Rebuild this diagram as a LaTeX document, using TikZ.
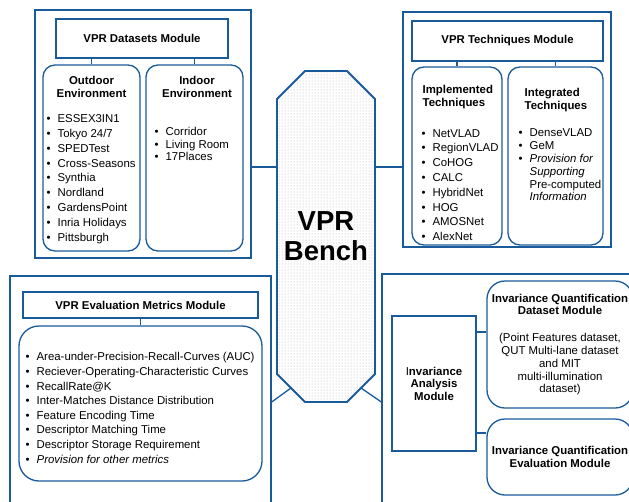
\documentclass[tikz,border=0pt]{standalone}
\usepackage{fontspec}
\setmainfont{Liberation Sans}
\usetikzlibrary{patterns}
\definecolor{vprblue}{RGB}{25,90,155}
\tikzset{every picture/.style={line width=1.3pt}}
\newcommand{\itm}[1]{\makebox[11pt][l]{\textbullet}#1}
\newcommand{\ind}[1]{\hspace*{11pt}#1}

\begin{document}
\begin{tikzpicture}[x=1pt,y=-1pt,
    frame/.style={draw=vprblue, inner sep=0pt},
    titlebox/.style={draw=vprblue, inner sep=0pt, align=center, font=\fontsize{11.4}{13}\selectfont\bfseries},
    roundbox/.style={draw=vprblue, inner sep=0pt, rounded corners=12pt},
    head/.style={inner sep=0pt, font=\fontsize{11.4}{13}\selectfont\bfseries},
    biglist/.style={inner sep=0pt, anchor=west, align=left, font=\fontsize{11.4}{14.8}\selectfont},
    smalllist/.style={inner sep=0pt, anchor=west, align=left, font=\fontsize{11.4}{12.8}\selectfont},
    link/.style={draw=vprblue}]
    \clip (0,0) rectangle (629,501);

    % datasets
    \node[frame, minimum width=216, minimum height=248] (dsframe) at (143,134) {};
    \node[titlebox, minimum width=172, minimum height=39] (dstitle) at (142,38.5) {VPR Datasets Module};
    \node[roundbox, minimum width=97, minimum height=186] (outdoor) at (91.5,158) {};
    \node[roundbox, minimum width=97, minimum height=186] (indoor) at (194.5,158) {};
    \node[head, align=center] (outhead) at (91.5,86.5) {Outdoor\\Environment};
    \node[head, align=center] (inhead) at (197,86.5) {Indoor\\Environment};
    \node[biglist] (outlist) at (46,179) {\itm{ESSEX3IN1}\\\itm{Tokyo 24/7}\\\itm{SPEDTest}\\\itm{Cross-Seasons}\\\itm{Synthia}\\\itm{Nordland}\\\itm{GardensPoint}\\\itm{Inria Holidays}\\\itm{Pittsburgh}};
    \node[smalllist] (inlist) at (154,144) {\itm{Corridor}\\\itm{Living Room}\\\itm{17Places}};

    % techniques
    \node[frame, minimum width=208, minimum height=235] (tqframe) at (507,129.5) {};
    \node[titlebox, minimum width=191, minimum height=40] (tqtitle) at (507.5,41) {VPR Techniques Module};
    \node[roundbox, minimum width=90, minimum height=178] (impl) at (457,156) {};
    \node[roundbox, minimum width=95, minimum height=178] (integ) at (555.5,156) {};
    \node[head, align=left, anchor=west] (implhead) at (422,97.5) {Implemented\\Techniques};
    \node[head, align=left, anchor=west] (integhead) at (524,100.5) {Integrated\\Techniques};
    \node[biglist] (impllist) at (421,185) {\itm{NetVLAD}\\\itm{RegionVLAD}\\\itm{CoHOG}\\\itm{CALC}\\\itm{HybridNet}\\\itm{HOG}\\\itm{AMOSNet}\\\itm{AlexNet}};
    \node[smalllist] (integlist) at (518,165) {\itm{DenseVLAD}\\\itm{GeM}\\\itm{\textit{Provision for}}\\\ind{\textit{Supporting}}\\\ind{Pre-computed}\\\ind{\textit{Information}}};

    % evaluation metrics
    \node[frame, minimum width=261, minimum height=252] (evframe) at (140.5,402) {};
    \node[titlebox, minimum width=235, minimum height=26] (evtitle) at (140.5,305) {VPR Evaluation Metrics Module};
    \node[roundbox, rounded corners=20pt, minimum width=243, minimum height=155] (evbox) at (140.5,403.5) {};
    \node[biglist, font=\fontsize{11.4}{14.6}\selectfont] (evlist) at (25,408) {\itm{Area-under-Precision-Recall-Curves (AUC)}\\\itm{Reciever-Operating-Characteristic Curves}\\\itm{RecallRate@K}\\\itm{Inter-Matches Distance Distribution}\\\itm{Feature Encoding Time}\\\itm{Descriptor Matching Time}\\\itm{Descriptor Storage Requirement}\\\itm{\textit{Provision for other metrics}}};

    % invariance analysis
    \node[frame, minimum width=278, minimum height=256] (invframe) at (521,402) {};
    \node[titlebox, font=\fontsize{11.4}{12.5}\selectfont\bfseries, minimum width=84, minimum height=135] (invmod) at (434,383.5) {{\mdseries I}nvariance\\Analysis\\Module};
    \node[roundbox, rounded corners=18pt, align=center, font=\fontsize{11.4}{12.8}\selectfont, minimum width=146, minimum height=127] (iqds) at (560,344.5) {\textbf{Invariance Quantification}\\\textbf{Dataset Module}\\[14pt](Point Features dataset,\\QUT Multi-lane dataset\\and MIT\\multi-illumination\\dataset)};
    \node[roundbox, rounded corners=18pt, align=center, font=\fontsize{11.4}{12.5}\selectfont\bfseries, minimum width=146, minimum height=76] (iqev) at (560,457) {Invariance Quantification\\Evaluation Module};

    % centre
    \draw[draw=vprblue, line width=1.8pt, pattern=dots, pattern color=gray!60]
        (305,71) -- (347,71) -- (375,99) -- (375,374) -- (347,402) -- (305,402) -- (277,374) -- (277,99) -- cycle;
    \node[font=\fontsize{27.5}{30}\selectfont\bfseries, align=center] (bench) at (326,236.5) {VPR\\Bench};
    \coordinate (octW) at (277,167);
    \coordinate (octE) at (375,167);
    \coordinate (octSW) at (291,388);
    \coordinate (octSE) at (361,388);
    \coordinate (q1) at ([yshift=12.5pt]iqds.west);
    \coordinate (q2) at ([yshift=24pt]iqev.west);

    \draw[link]
        (outdoor.north |- dstitle.south) edge (outdoor.north)
        (indoor.north |- dstitle.south) edge (indoor.north)
        (impl.north |- tqtitle.south) edge (impl.north)
        (integ.north |- tqtitle.south) edge (integ.north)
        (evtitle.south) edge (evbox.north)
        (dsframe.east |- octW) edge (octW)
        (octE) edge (octE -| tqframe.west)
        (evframe.east) edge (octSW)
        (octSE) edge (invframe.west)
        (q1 -| invmod.east) edge (q1)
        (q2 -| invmod.east) edge (q2)
        ;
\end{tikzpicture}
\end{document}
